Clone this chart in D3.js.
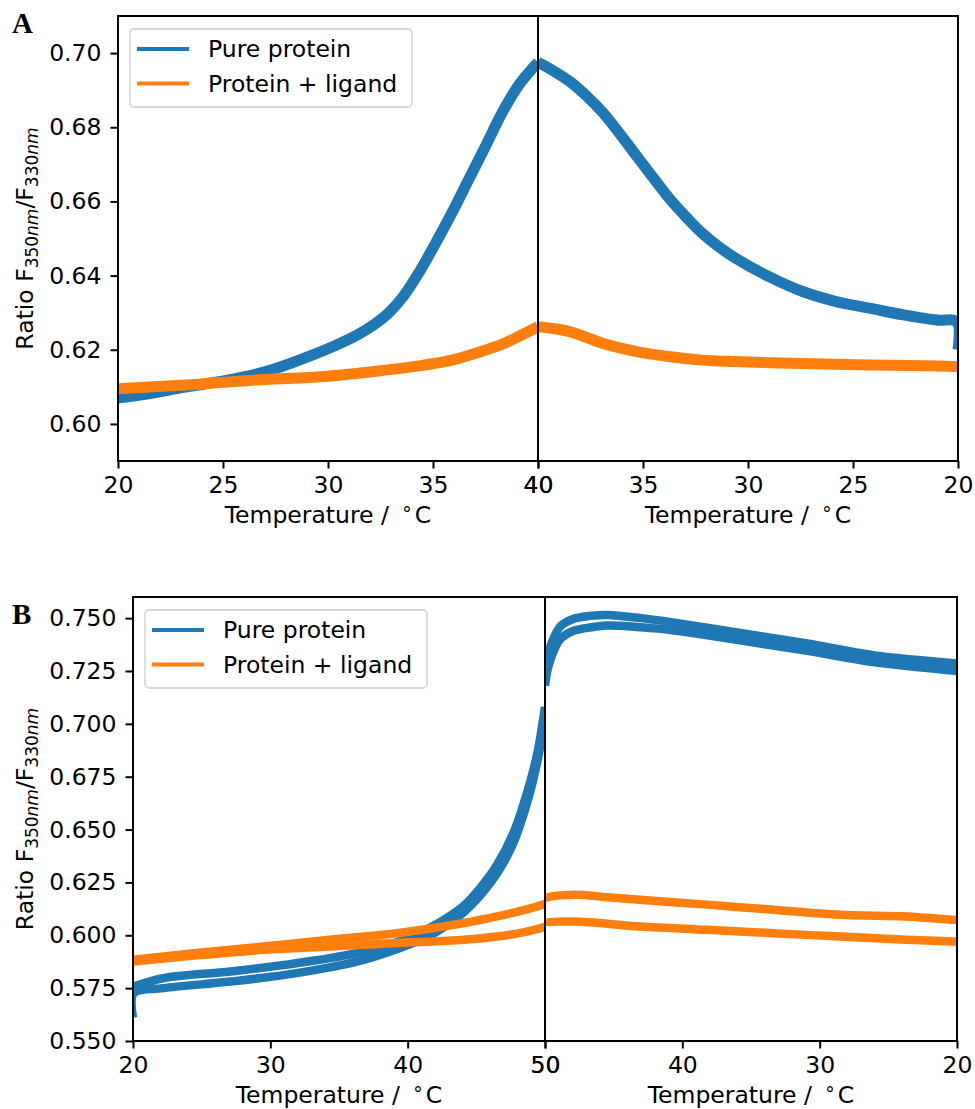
<!DOCTYPE html>
<html>
<head>
<meta charset="utf-8">
<script src="https://cdn.jsdelivr.net/npm/d3@7"></script>
<style>
  body { margin: 0; background: #fff; }
  svg { display: block; font-family: "DejaVu Sans", sans-serif; }
</style>
</head>
<body>
<svg id="chart" width="975" height="1109"></svg>
<script>
// ---- data: [temperature, ratio] ----
// Panel A, heating 20 -> 40
const aHeatPure = [[20,0.6070],[21.5,0.6082],[23,0.6097],[24.8,0.6114],[26.5,0.6133],[27.8,0.6155],[29,0.6180],[30.3,0.6210],[31.4,0.6240],[32.2,0.6268],[32.9,0.6300],[33.6,0.6345],[34.3,0.6405],[35.1,0.6485],[35.9,0.6569],[36.7,0.6659],[37.5,0.6749],[38.3,0.6840],[39.05,0.6911],[39.6,0.6950],[40,0.6975]];
const aHeatLigand = [[20,0.6095],[23.2,0.6105],[26.4,0.6118],[29.6,0.6127],[32.7,0.6145],[34.5,0.6158],[35.9,0.6172],[37.5,0.6199],[38.3,0.6215],[39.05,0.6235],[40,0.6262]];
// Panel A, cooling 40 -> 20
const aCoolPure = [[40,0.6975],[39.5,0.6960],[38.5,0.6924],[37.7,0.6885],[36.9,0.6839],[36.1,0.6782],[35.3,0.6722],[34.5,0.6663],[33.7,0.6605],[32.9,0.6555],[32.2,0.6515],[31.4,0.6478],[30.6,0.6447],[29.0,0.6397],[27.4,0.6357],[25.8,0.6330],[24.2,0.6312],[22.6,0.6294],[21.0,0.6280],[20.05,0.6275],[20,0.6200]];
const aCoolLigand = [[40,0.6262],[38.5,0.6249],[36.9,0.6217],[35.3,0.6195],[33.7,0.6181],[32.2,0.6172],[30.6,0.6168],[27.4,0.6163],[24.2,0.6159],[21.0,0.6156],[20,0.6154]];

// Panel B, heating 20 -> 50 (two runs each)
const bHeatPure1 = [[20,0.5757],[22.2,0.5797],[27.1,0.5829],[31.9,0.5868],[36.8,0.5923],[40.4,0.5994],[41.6,0.6034],[42.8,0.6080],[44.1,0.6140],[45.3,0.6225],[46.5,0.6332],[47.7,0.6484],[48.9,0.6721],[49.5,0.6880],[49.9,0.7037],[50,0.7080]];
const bHeatPure2 = [[20,0.5610],[20.05,0.5726],[22.2,0.5750],[27.1,0.5781],[31.9,0.5821],[36.8,0.5884],[40.4,0.5963],[41.6,0.5998],[42.8,0.6045],[44.1,0.6110],[45.3,0.6190],[46.5,0.6292],[47.7,0.6437],[48.9,0.6674],[49.5,0.6840],[49.9,0.6990],[50,0.7040]];
const bHeatLigand1 = [[20,0.5884],[24.6,0.5916],[29.5,0.5947],[34.3,0.5979],[39.2,0.6010],[44.1,0.6058],[46.5,0.6089],[48.5,0.6120],[50,0.6148]];
const bHeatLigand2 = [[20,0.5876],[24.6,0.5905],[29.5,0.5931],[34.3,0.5947],[39.2,0.5963],[44.1,0.5979],[46.5,0.5994],[48.5,0.6015],[50,0.6040]];
// Panel B, cooling 50 -> 20
const bCoolPure1 = [[50,0.7260],[49.8,0.7330],[49.4,0.7400],[48.9,0.7460],[48,0.7495],[46.5,0.7512],[45.5,0.7515],[43,0.7500],[40.7,0.7480],[35.8,0.7430],[30.9,0.7380],[26.1,0.7325],[20.3,0.7287],[20,0.7285]];
const bCoolPure2 = [[50,0.7180],[49.8,0.7260],[49.4,0.7340],[48.9,0.7400],[48,0.7438],[46.5,0.7458],[45.5,0.7465],[43,0.7457],[40.7,0.7443],[35.8,0.7395],[30.9,0.7345],[26.1,0.7292],[20.3,0.7252],[20,0.7250]];
const bCoolLigand1 = [[50,0.6160],[49.9,0.6176],[47.9,0.6192],[45.5,0.6180],[43.1,0.6168],[38.2,0.6145],[33.4,0.6121],[28.5,0.6097],[23.7,0.6089],[20.3,0.6073],[20,0.6072]];
const bCoolLigand2 = [[50,0.6045],[49.9,0.6058],[47.9,0.6065],[43.1,0.6042],[38.2,0.6026],[33.4,0.6010],[28.5,0.5994],[23.7,0.5979],[20.3,0.5971],[20,0.5970]];

// ticks and labels
const aYTicks = [0.60, 0.62, 0.64, 0.66, 0.68, 0.70];
const aXTicks = [20, 25, 30, 35, 40];
const bYTicks = [0.550, 0.575, 0.600, 0.625, 0.650, 0.675, 0.700, 0.725, 0.750];
const bXTicks = [20, 30, 40, 50];
const legendLabels = ["Pure protein", "Protein + ligand"];
const panelLabels = ["A", "B"];

const blue = "#1f77b4";
const orange = "#ff7f0e";
const fs = 23.5;

const svg = d3.select("#chart");

function styleAxis(sel) {
  sel.attr("font-size", null).attr("font-family", null);
  sel.select(".domain").remove();
  sel.selectAll(".tick line").attr("stroke", "#000").attr("stroke-width", 2);
  sel.selectAll(".tick text").attr("fill", "#000").style("font-size", fs + "px");
}

function drawPanel(p) {
  const g = svg.append("g");
  const y = d3.scaleLinear().domain(p.yDomain).range([p.bottom, p.top]);
  const xL = d3.scaleLinear().domain([20, p.tMax]).range([p.left, p.mid]);
  const xR = d3.scaleLinear().domain([p.tMax, 20]).range([p.mid, p.right]);

  const halves = [
    { x: xL, x0: p.left, x1: p.mid, ticks: p.xTicks, series: p.heat, id: p.id + "L" },
    { x: xR, x0: p.mid, x1: p.right, ticks: p.xTicks.slice().reverse(), series: p.cool, id: p.id + "R" }
  ];

  halves.forEach(h => {
    g.append("clipPath").attr("id", h.id)
      .append("rect")
      .attr("x", h.x0).attr("y", p.top)
      .attr("width", h.x1 - h.x0).attr("height", p.bottom - p.top);

    const line = d3.line()
      .x(d => h.x(d[0]))
      .y(d => y(d[1]))
      .curve(d3.curveCatmullRom.alpha(0.5));

    g.append("g").attr("clip-path", `url(#${h.id})`)
      .selectAll("path")
      .data(h.series)
      .join("path")
      .attr("d", d => line(d.data))
      .attr("fill", "none")
      .attr("stroke", d => d.color)
      .attr("stroke-width", p.lw)
      .attr("stroke-linejoin", "round")
      .attr("stroke-linecap", "butt");

    // x axis of this half
    g.append("g")
      .attr("transform", `translate(0,${p.bottom})`)
      .call(d3.axisBottom(h.x).tickValues(h.ticks).tickSize(7.5).tickPadding(8).tickFormat(d3.format("d")))
      .call(styleAxis);

    // x axis title
    const t = g.append("text")
      .attr("x", (h.x0 + h.x1) / 2)
      .attr("y", p.bottom + 62)
      .attr("text-anchor", "middle")
      .style("font-size", fs + "px");
    t.append("tspan").text("Temperature /");
    t.append("tspan").attr("dx", 12).attr("dy", -8).style("font-size", "19px").text("\u2218");
    t.append("tspan").attr("dx", 2).attr("dy", 8).text("C");
  });

  // y axis
  g.append("g")
    .attr("transform", `translate(${p.left},0)`)
    .call(d3.axisLeft(y).tickValues(p.yTicks).tickSize(7.5).tickPadding(9).tickFormat(d3.format(p.yFormat)))
    .call(styleAxis);

  // y axis title
  const cy = (p.top + p.bottom) / 2;
  const yl = g.append("text")
    .attr("transform", `translate(33,${cy}) rotate(-90)`)
    .attr("text-anchor", "middle")
    .style("font-size", fs + "px");
  yl.append("tspan").text("Ratio F");
  yl.append("tspan").attr("dy", 5).style("font-size", "17px").text("350");
  yl.append("tspan").style("font-size", "17px").style("font-style", "italic").text("nm");
  yl.append("tspan").attr("dy", -5).text("/F");
  yl.append("tspan").attr("dy", 5).style("font-size", "17px").text("330");
  yl.append("tspan").style("font-size", "17px").style("font-style", "italic").text("nm");

  // frame and middle divider
  g.append("rect")
    .attr("x", p.left).attr("y", p.top)
    .attr("width", p.right - p.left).attr("height", p.bottom - p.top)
    .attr("fill", "none").attr("stroke", "#000").attr("stroke-width", 2);
  g.append("line")
    .attr("x1", p.mid).attr("x2", p.mid)
    .attr("y1", p.top).attr("y2", p.bottom)
    .attr("stroke", "#000").attr("stroke-width", 2);

  // legend
  const lx = p.left + 12, ly = p.top + 13;
  const lg = g.append("g");
  lg.append("rect")
    .attr("x", lx).attr("y", ly)
    .attr("width", 282).attr("height", 78)
    .attr("rx", 4)
    .attr("fill", "#fff").attr("fill-opacity", 0.8)
    .attr("stroke", "#cccccc").attr("stroke-width", 1.3);
  [blue, orange].forEach((c, i) => {
    const yy = ly + 20 + i * 34.5;
    lg.append("line")
      .attr("x1", lx + 7).attr("x2", lx + 59)
      .attr("y1", yy).attr("y2", yy)
      .attr("stroke", c).attr("stroke-width", 4);
    lg.append("text")
      .attr("x", lx + 78).attr("y", yy).attr("dy", "0.35em")
      .style("font-size", fs + "px")
      .text(legendLabels[i]);
  });

  // panel letter
  svg.append("text")
    .attr("x", p.labelX).attr("y", p.labelY)
    .style("font-family", "'Liberation Serif', 'Times New Roman', serif")
    .style("font-weight", "bold")
    .style("font-size", "29px")
    .text(p.label);
}

drawPanel({
  id: "a", label: panelLabels[0], labelX: 12, labelY: 33,
  left: 118, mid: 538, right: 958, top: 16, bottom: 461,
  yDomain: [0.59, 0.71], tMax: 40,
  yTicks: aYTicks, xTicks: aXTicks, yFormat: ".2f", lw: 11,
  heat: [{ color: blue, data: aHeatPure }, { color: orange, data: aHeatLigand }],
  cool: [{ color: blue, data: aCoolPure }, { color: orange, data: aCoolLigand }]
});

drawPanel({
  id: "b", label: panelLabels[1], labelX: 12, labelY: 624,
  left: 133, mid: 545, right: 957, top: 597, bottom: 1041,
  yDomain: [0.55, 0.76], tMax: 50,
  yTicks: bYTicks, xTicks: bXTicks, yFormat: ".3f", lw: 8.5,
  heat: [{ color: blue, data: bHeatPure1 }, { color: blue, data: bHeatPure2 },
         { color: orange, data: bHeatLigand1 }, { color: orange, data: bHeatLigand2 }],
  cool: [{ color: blue, data: bCoolPure1 }, { color: blue, data: bCoolPure2 },
         { color: orange, data: bCoolLigand1 }, { color: orange, data: bCoolLigand2 }]
});
</script>
</body>
</html>
